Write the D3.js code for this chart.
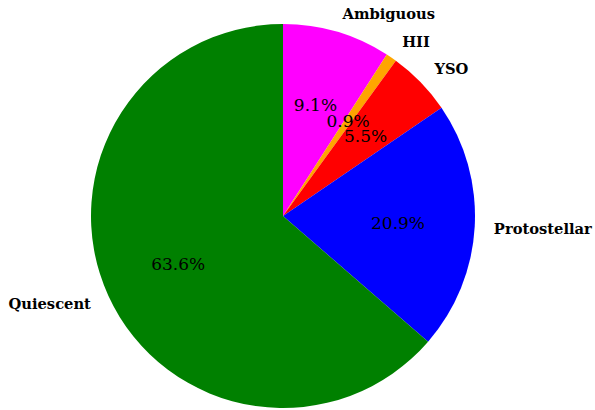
<!DOCTYPE html>
<html><head><meta charset="utf-8">
<script src="https://cdn.jsdelivr.net/npm/d3@7"></script>
<style>body{margin:0;background:#fff}svg{display:block}</style>
</head><body>
<svg id="chart" width="595" height="410"></svg>
<script>
const categories = ["Ambiguous", "HII", "YSO", "Protostellar", "Quiescent"];
const counts = [10, 1, 6, 23, 70];
const colors = ["#ff00ff", "#ffa500", "#ff0000", "#0000ff", "#008000"];

const W = 595, H = 410;
const cx = 283, cy = 216, R = 192;
const svg = d3.select("#chart");
const g = svg.append("g").attr("transform", `translate(${cx},${cy})`);

const data = categories.map((c, i) => ({cat: c, v: counts[i], col: colors[i]}));
const total = d3.sum(counts);
const pie = d3.pie().value(d => d.v).sort(null).startAngle(0).endAngle(2 * Math.PI);
const arcs = pie(data);
const arc = d3.arc().innerRadius(0).outerRadius(R);

g.selectAll("path").data(arcs).join("path")
  .attr("d", arc).attr("fill", d => d.data.col);

const mid = d => (d.startAngle + d.endAngle) / 2;

g.selectAll("text.lab").data(arcs).join("text")
  .attr("class", "lab")
  .attr("x", d => Math.sin(mid(d)) * R * 1.1)
  .attr("y", d => -Math.cos(mid(d)) * R * 1.1)
  .attr("text-anchor", d => Math.sin(mid(d)) >= 0 ? "start" : "end")
  .attr("dominant-baseline", "central")
  .style("font-family", "DejaVu Serif")
  .style("font-weight", "bold")
  .style("font-size", "14.7px")
  .text(d => d.data.cat);

g.selectAll("text.pct").data(arcs).join("text")
  .attr("class", "pct")
  .attr("x", d => Math.sin(mid(d)) * R * 0.6)
  .attr("y", d => -Math.cos(mid(d)) * R * 0.6)
  .attr("text-anchor", "middle")
  .attr("dominant-baseline", "central")
  .style("font-family", "DejaVu Serif")
  .style("font-size", "17px")
  .text(d => (d.data.v / total * 100).toFixed(1) + "%");
</script>
</body></html>
